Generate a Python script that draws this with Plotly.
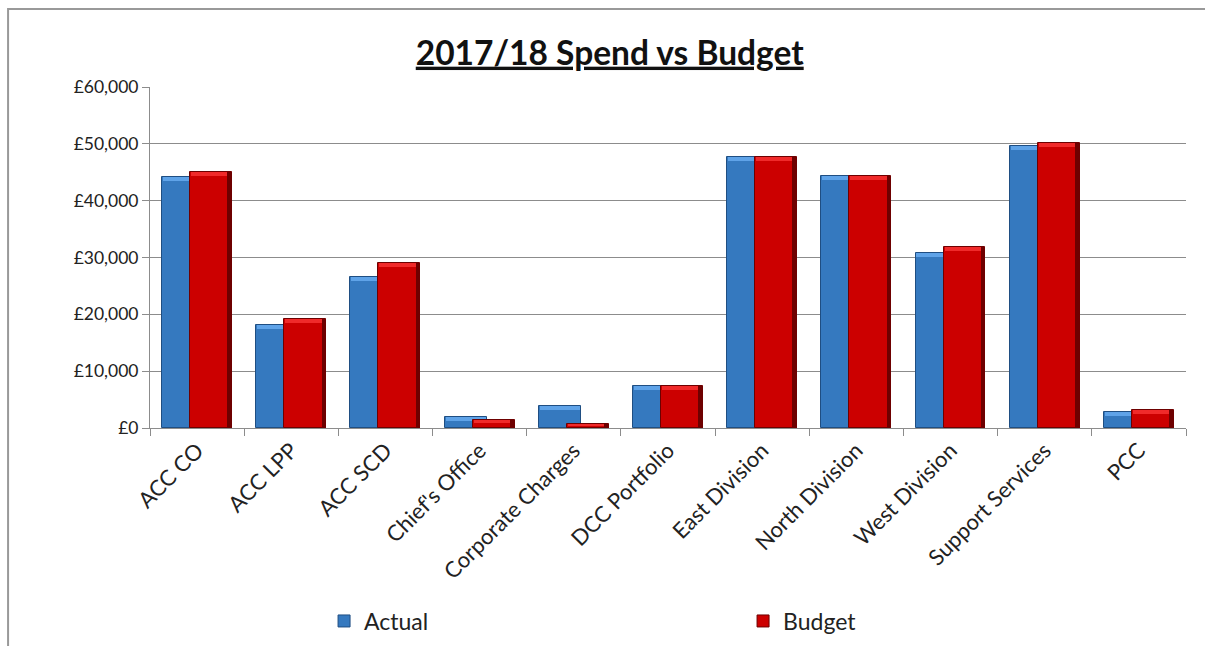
import plotly.graph_objects as go

categories = ["ACC CO", "ACC LPP", "ACC SCD", "Chief's Office", "Corporate Charges",
              "DCC Portfolio", "East Division", "North Division", "West Division",
              "Support Services", "PCC"]
actual = [44200, 18100, 26600, 1900, 3900, 7400, 47600, 44300, 30800, 49700, 2800]
budget = [45000, 19100, 29100, 1400, 700, 7400, 47700, 44300, 31900, 50100, 3200]

BLUE = "#3579BF"
BLUE_LIGHT = "#5FA3E8"
BLUE_DARK = "#1F4E82"
RED = "#CC0000"
RED_LIGHT = "#F02A2A"
RED_DARK = "#6E0000"

W = 0.445
OFF_A = -0.372
OFF_B = -0.074
BEVEL = 700  # height of the lighter top bevel band, in axis units


def bevel(vals):
    h = [min(BEVEL, v * 0.35) for v in vals]
    base = [v - hh for v, hh in zip(vals, h)]
    return h, base


fig = go.Figure()
fig.add_trace(go.Bar(x=categories, y=actual, name="Actual", width=W, offset=OFF_A,
                     marker=dict(color=BLUE, line=dict(color=BLUE_DARK, width=1))))
ha, ba = bevel(actual)
fig.add_trace(go.Bar(x=categories, y=ha, base=ba, width=W - 0.02, offset=OFF_A + 0.01,
                     marker=dict(color=BLUE_LIGHT, line=dict(width=0)),
                     showlegend=False, hoverinfo="skip"))
fig.add_trace(go.Bar(x=categories, y=budget, name="Budget", width=W, offset=OFF_B,
                     marker=dict(color=RED, line=dict(color=RED_DARK, width=1))))
hb, bb = bevel(budget)
fig.add_trace(go.Bar(x=categories, y=hb, base=bb, width=W - 0.06, offset=OFF_B + 0.01,
                     marker=dict(color=RED_LIGHT, line=dict(width=0)),
                     showlegend=False, hoverinfo="skip"))
# dark shading strip on the right side of the budget bars (bevel look)
fig.add_trace(go.Bar(x=categories, y=budget, width=0.05, offset=OFF_B + W - 0.05,
                     marker=dict(color=RED_DARK, line=dict(width=0)),
                     showlegend=False, hoverinfo="skip"))

fig.update_layout(
    barmode="overlay",
    width=1205, height=646,
    margin=dict(l=150, r=19, t=87, b=218, autoexpand=False),
    paper_bgcolor="white", plot_bgcolor="white",
    font=dict(family="Lato, 'Open Sans', sans-serif", color="#222222", size=17),
    title=dict(text="<b><u>2017/18 Spend vs Budget</u></b>", x=0.506, xanchor="center",
               y=0.918, yanchor="middle", font=dict(size=33.5, color="#111111")),
    legend=dict(orientation="h", x=0.168, xanchor="left", y=-0.566, yanchor="middle",
                entrywidth=374, font=dict(size=23, color="#222222"),
                itemwidth=30, traceorder="normal"),
    bargap=0, bargroupgap=0,
    shapes=[dict(type="rect", xref="paper", yref="paper",
                 x0=-0.137, x1=1.023, y0=-0.75, y1=1.2287,
                 line=dict(color="#999999", width=2), fillcolor="rgba(0,0,0,0)")],
)
fig.update_yaxes(range=[0, 60000], dtick=10000, tickprefix="£", tickformat=",d",
                 showgrid=True, gridcolor="#8c8c8c", gridwidth=1,
                 showline=True, linecolor="#8c8c8c", linewidth=1,
                 ticks="outside", ticklen=7, tickcolor="#8c8c8c",
                 tickfont=dict(size=17.5), zeroline=False, fixedrange=True)
fig.update_xaxes(tickangle=-45, tickson="boundaries", ticks="outside", ticklen=7,
                 tickcolor="#8c8c8c", showline=True, linecolor="#8c8c8c", linewidth=1,
                 tickfont=dict(size=22), showgrid=False, fixedrange=True)

fig.write_html("out.html")
